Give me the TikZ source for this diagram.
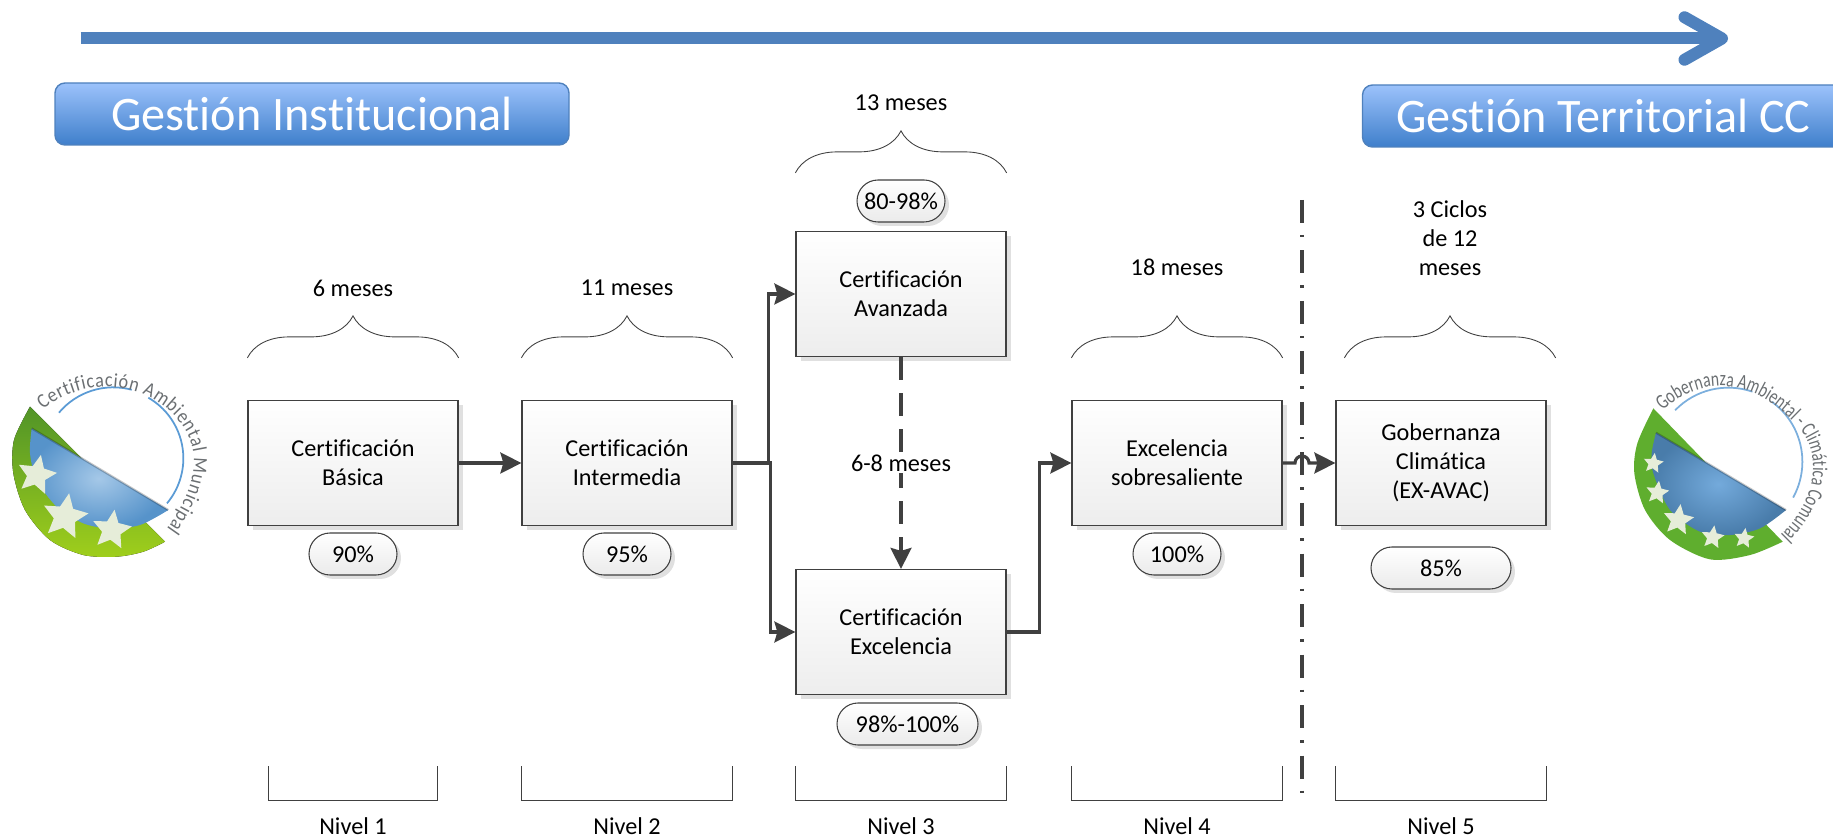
\documentclass[tikz,border=0pt]{standalone}
\usepackage{fontspec}
\setmainfont[Ligatures=NoCommon]{Carlito}
\newfontfamily\logofont[FakeStretch=.9,Ligatures=NoCommon]{Carlito}
\newfontfamily\narrowfont[FakeStretch=.74,Ligatures=NoCommon]{Carlito}
\usetikzlibrary{arrows.meta,calc,shapes.geometric,shadows,decorations.text,decorations.pathreplacing}
\definecolor{linegray}{HTML}{404040}
\definecolor{arrowblue}{HTML}{4F81BD}
\definecolor{headtop}{HTML}{9CC2FB}
\definecolor{headbottom}{HTML}{3F7FCB}
\definecolor{leafgreen}{HTML}{5FAE2E}
\definecolor{skyblue}{HTML}{5B9BD5}
\definecolor{logogray}{HTML}{6B6F72}
\definecolor{starcream}{HTML}{E6EDD9}
\begin{document}
\begin{tikzpicture}[>={Stealth[length=.42cm,width=.42cm,inset=.06cm]},node distance=5.48cm,
    main box/.style={draw=linegray,line width=.7pt,top color=white,bottom color=black!7,minimum width=4.2cm,minimum height=2.5cm,align=center,font=\fontsize{13.8}{16.6}\selectfont,drop shadow={shadow xshift=.09cm,shadow yshift=-.09cm,fill=black!20,opacity=.6}},
    pill/.style={draw=linegray,line width=.6pt,rounded corners=.42cm,top color=white,bottom color=black!8,minimum width=1.76cm,minimum height=.84cm,inner sep=0pt,font=\fontsize{13.8}{16.6}\selectfont,drop shadow={shadow xshift=.08cm,shadow yshift=-.08cm,fill=black!20,opacity=.6}},
    label/.style={align=center,font=\fontsize{13.8}{16.6}\selectfont},
    header/.style={draw=arrowblue,line width=.8pt,rounded corners=.2cm,top color=headtop,bottom color=headbottom,text=white,font=\fontsize{27.4}{32}\selectfont},
    bracket/.style={draw=linegray,line width=.5pt},
    curly/.style={draw=linegray,line width=.5pt,decorate,decoration={brace,amplitude=.84cm}},
    conn/.style={draw=linegray,line width=1.8pt},
    logostar/.style={star,star points=5,star point ratio=2.1,fill=starcream,inner sep=0pt,minimum size=.82cm},
    logoword/.style={decorate,decoration={text along path,text align=fit to path,text={#1}}}]
    \useasboundingbox (0,0) rectangle (36.66,16.74);

    % top arrow
    \coordinate (arrowstart) at (1.61,15.97);
    \coordinate (arrowend) at (34.56,15.97);
    \draw[arrowblue,line width=.24cm,-{Straight Barb[length=.75cm,width=.85cm,round]}] (arrowstart) -- (arrowend);

    % headers
    \node[header,minimum width=10.28cm,minimum height=1.24cm] (gestion) at (6.24,14.46) {Gestión Institucional};
    \node[header,minimum width=9.64cm,minimum height=1.24cm] (territorial) at (32.07,14.42) {Gestión Territorial CC};

    % levels
    \node[main box] (basica) at (7.06,7.48) {Certificación\\Básica};
    \node[main box] (intermedia) [right of=basica] {Certificación\\Intermedia};
    \node[main box] (avanzada) [right of=intermedia,yshift=3.38cm] {Certificación\\Avanzada};
    \node[main box] (excelencia) [right of=intermedia,yshift=-3.38cm] {Certificación\\Excelencia};
    \node[main box] (sobresaliente) [right of=intermedia,node distance=11cm] {Excelencia\\sobresaliente};
    \node[main box] (gobernanza) [right of=sobresaliente,node distance=5.28cm] {Gobernanza\\Climática\\(EX-AVAC)};

    % percentages
    \node[pill] (p1) [below of=basica,node distance=1.82cm] {90\%};
    \node[pill] (p2) [below of=intermedia,node distance=1.82cm] {95\%};
    \node[pill] (p3) [above of=avanzada,node distance=1.86cm] {80-98\%};
    \node[pill,minimum width=2.82cm] (p4) [below of=excelencia,node distance=1.84cm,xshift=.13cm] {98\%-100\%};
    \node[pill] (p5) [below of=sobresaliente,node distance=1.82cm] {100\%};
    \node[pill,minimum width=2.8cm] (p6) [below of=gobernanza,node distance=2.1cm] {85\%};

    % durations
    \node[label] (t1) [above of=basica,node distance=3.5cm] {6 meses};
    \node[label] (t2) [above of=intermedia,node distance=3.5cm] {11 meses};
    \node[label] (t3) [above of=avanzada,node distance=3.82cm] {13 meses};
    \node[label] (t4) [above of=sobresaliente,node distance=3.92cm] {18 meses};
    \node[label] (t5) [above of=gobernanza,node distance=4.5cm,xshift=.18cm] {3 Ciclos\\de 12\\meses};

    % braces
    \draw[curly] ($(basica.north west)+(0,.84)$) -- ($(basica.north east)+(0,.84)$);
    \draw[curly] ($(intermedia.north west)+(0,.84)$) -- ($(intermedia.north east)+(0,.84)$);
    \draw[curly] ($(avanzada.north west)+(0,1.16)$) -- ($(avanzada.north east)+(0,1.16)$);
    \draw[curly] ($(sobresaliente.north west)+(0,.84)$) -- ($(sobresaliente.north east)+(0,.84)$);
    \draw[curly] ($(gobernanza.north west)+(.18,.84)$) -- ($(gobernanza.north east)+(.18,.84)$);

    % connectors
    \coordinate (split) at ($(intermedia.east)+(.76,0)$);
    \coordinate (splitup) at ($(intermedia.east)+(.72,0)$);
    \coordinate (riser) at ($(excelencia.east)+(.66,0)$);
    \coordinate (hopin) at (25.9,7.48);
    \draw[conn,->] (basica) -- (intermedia);
    \draw[conn,->] (intermedia) -- (splitup) |- (avanzada);
    \draw[conn,->] (intermedia) -- (split) |- (excelencia);
    \draw[conn,->] (excelencia) -- (riser) |- (sobresaliente);
    \draw[conn,->] (sobresaliente) -- (hopin) arc[start angle=180,end angle=0,radius=.14cm] -- (gobernanza);
    \draw[conn,->,dash pattern=on .46cm off .26cm] (avanzada) -- (excelencia);
    \node[fill=white,label,inner sep=1pt] (t6) at ($(avanzada)!.5!(excelencia)$) {6-8 meses};

    % divider
    \coordinate (divtop) at (26.04,12.74);
    \coordinate (divbottom) at (26.04,.82);
    \draw[linegray,line width=1.8pt,dash pattern=on .46cm off .24cm on .05cm off .26cm] (divtop) -- (divbottom);

    % levels at the bottom
    \draw[bracket] (5.36,1.42) |- (8.74,.74) -- (8.74,1.42);
    \draw[bracket] (intermedia.west |- 0,1.42) |- (intermedia.east |- 0,.74) -- (intermedia.east |- 0,1.42);
    \draw[bracket] (excelencia.west |- 0,1.42) |- (excelencia.east |- 0,.74) -- (excelencia.east |- 0,1.42);
    \draw[bracket] (sobresaliente.west |- 0,1.42) |- (sobresaliente.east |- 0,.74) -- (sobresaliente.east |- 0,1.42);
    \draw[bracket] (gobernanza.west |- 0,1.42) |- (gobernanza.east |- 0,.74) -- (gobernanza.east |- 0,1.42);
    \node[label] (n1) [below of=basica,node distance=7.26cm] {Nivel 1};
    \node[label] (n2) [below of=intermedia,node distance=7.26cm] {Nivel 2};
    \node[label] (n3) [below of=intermedia,node distance=7.26cm,xshift=5.48cm] {Nivel 3};
    \node[label] (n4) [below of=sobresaliente,node distance=7.26cm] {Nivel 4};
    \node[label] (n5) [below of=gobernanza,node distance=7.26cm] {Nivel 5};

    % left logo, in thirds of a pixel
    \begin{scope}[shift={(0,9.94)},x=.006667cm,y=-.006667cm]
        \fill[top color=leafgreen!85!black,bottom color=leafgreen!60!yellow] plot[smooth] coordinates {(90,200) (42,300) (40,400) (75,510) (150,600) (250,645) (350,650) (430,635) (495,605)} -- cycle;
        \shade[inner color=skyblue!55!white,outer color=skyblue!95!black] plot[smooth] coordinates {(95,265) (90,340) (110,420) (170,500) (250,550) (330,565) (420,555) (505,510)} -- cycle;
        \draw[black,opacity=.22,line width=1.2pt] (95,265) -- (505,510);
        \node[logostar,rotate=-12] (s1) at (110,405) {};
        \node[logostar,rotate=-10,minimum size=.95cm] (s2) at (195,530) {};
        \node[logostar,rotate=-8] (s3) at (335,570) {};
        \draw[skyblue,line width=1pt] ([shift={(-140:213)}]340,355) arc[start angle=-140,end angle=-75,radius=213];
        \draw[skyblue,line width=1pt] ([shift={(-60:210)}]340,355) arc[start angle=-60,end angle=40,radius=210];
        \path[logoword={|\logofont\fontsize{11.5}{12}\selectfont\color{logogray}|Certificación Ambiental Municipal}] (130,210) .. controls (220,130) and (400,100) .. (523,227) .. controls (590,300) and (620,400) .. (500,568);
    \end{scope}

    % right logo
    \begin{scope}[shift={(32,9.94)},x=.006667cm,y=-.006667cm]
        \fill[leafgreen] plot[smooth] coordinates {(160,205) (112,310) (103,400) (135,510) (210,600) (330,658) (450,645) (548,605)} -- cycle;
        \shade[inner color=skyblue!85!white,outer color=skyblue!80!black] plot[smooth] coordinates {(168,278) (155,340) (160,400) (210,510) (300,575) (390,585) (480,565) (558,510)} -- cycle;
        \draw[black,opacity=.22,line width=1.2pt] (168,278) -- (558,510);
        \node[logostar,rotate=-8,minimum size=.42cm] (r1) at (160,370) {};
        \node[logostar,rotate=-8,minimum size=.48cm] (r2) at (172,458) {};
        \node[logostar,rotate=-8,minimum size=.64cm] (r3) at (235,540) {};
        \node[logostar,rotate=-8,minimum size=.48cm] (r4) at (338,592) {};
        \node[logostar,rotate=-8,minimum size=.42cm] (r5) at (432,595) {};
        \draw[skyblue!80!white,line width=1pt] ([shift={(-136:222)}]385,365) arc[start angle=-136,end angle=-71,radius=222];
        \draw[skyblue!80!white,line width=1pt] ([shift={(-54:222)}]385,365) arc[start angle=-54,end angle=29,radius=222];
        \path[logoword={|\narrowfont\fontsize{12}{12}\selectfont\color{logogray}|Gobernanza Ambiental - Climática Comunal}] (188,212) .. controls (290,120) and (440,90) .. (597,264) .. controls (660,335) and (660,470) .. (543,584);
    \end{scope}
\end{tikzpicture}
\end{document}
